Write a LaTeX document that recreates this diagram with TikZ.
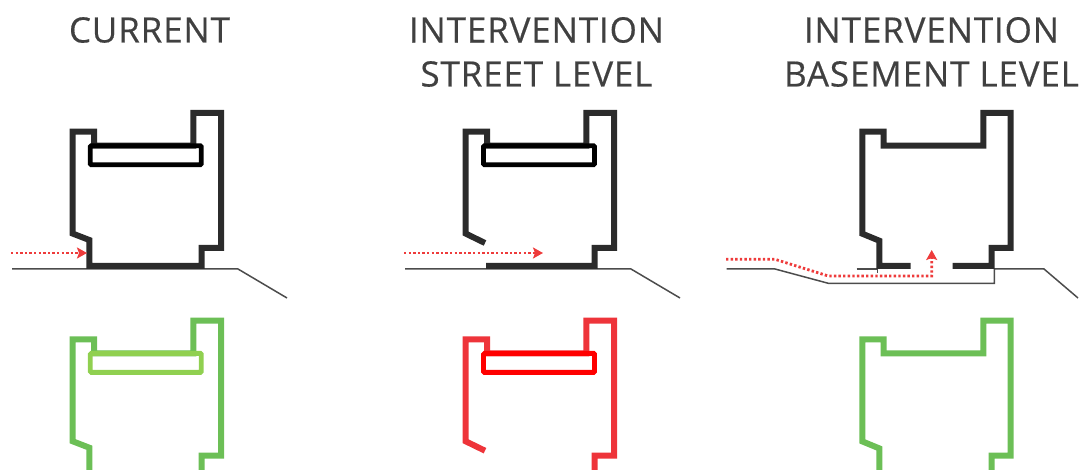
\documentclass[tikz,border=0pt]{standalone}
\usepackage{fontspec}
\setmainfont{Open Sans}[LetterSpace=2.4,FakeBold=0.4]
\usetikzlibrary{arrows.meta}
\definecolor{wallgray}{HTML}{2B2B2B}
\definecolor{titlegray}{HTML}{404040}
\definecolor{routered}{HTML}{EE3B3B}
\definecolor{okgreen}{HTML}{6CBF56}
\definecolor{traygreen}{HTML}{90D050}
\definecolor{badred}{HTML}{EE343A}
\begin{document}
\begin{tikzpicture}[x=1pt, y=-1pt, node distance={44pt},
    title/.style = {text=titlegray, font=\fontsize{35}{35}\selectfont, inner sep=0pt},
    wall/.style = {draw=wallgray, line width=6pt, miter limit=10},
    tray/.style = {draw=black, line width=4.8pt, rounded corners=1pt, minimum width=111pt, minimum height=19pt, inner sep=0pt},
    ground/.style = {draw=black!70, line width=1.5pt},
    route/.style = {draw=routered, line width=2.8pt, dash pattern=on 2.4pt off 2.2pt, -{Stealth[length=10pt,width=11pt,inset=2pt]}}]
    \useasboundingbox (0,0) rectangle (1085,470);
        \node[title] (t1) at (149.5,30) {CURRENT};
        \node[title] (t2) at (536.5,30) {INTERVENTION};
        \node[title] (t2b) [below of = t2] {STREET LEVEL};
        \node[title] (t3) at (931.5,30) {INTERVENTION};
        \node[title] (t3b) [below of = t3] {BASEMENT LEVEL};
        % ground lines
        \draw[ground] (12,269) -- (238,269) -- (287,298);
        \draw[ground] (405,269) -- (631,269) -- (680,298);
        \draw[ground] (726.7,269) -- (775,269) -- (828.3,283.3) -- (994.3,283.3) -- (994.3,269) -- (1044,269) -- (1078,298);
        \draw[ground] (856.7,269) -- (877.3,269) -- (877.3,272.7);
        % top row
        \draw[wall] (72.5,131.7) -- (94,131.7) -- (94,145.7) -- (193.3,145.7) -- (193.3,113) -- (221,113) -- (221,248) -- (201.7,248) -- (201.7,266) -- (89.3,266) -- (89.3,240) -- (72.5,233.5) -- cycle;
        \node[tray] (tray1) at (145.8,155.2) {};
        \draw[wall] (485,243) -- (465.5,233.5) -- (465.5,131.7) -- (487,131.7) -- (487,145.7) -- (586.3,145.7) -- (586.3,113) -- (614,113) -- (614,248) -- (594.7,248) -- (594.7,266) -- (486,266);
        \node[tray] (tray2) at (539,155.2) {};
        \draw[wall] (910.7,266) -- (879.3,266) -- (879.3,240.7) -- (862.3,233.7) -- (862.3,131.7) -- (883.7,131.7) -- (883.7,145.7) -- (983.3,145.7) -- (983.3,113) -- (1010.7,113) -- (1010.7,248) -- (991.7,248) -- (991.7,266) -- (952.7,266);
        % routes
        \coordinate (a1) at (11,253);
        \coordinate (b1) at (87,253);
        \coordinate (a2) at (404,253);
        \coordinate (b2) at (543,253);
        \coordinate (a3) at (726,259.3);
        \coordinate (b3) at (931.7,250);
        \draw[route] (a1) -- (b1);
        \draw[route] (a2) -- (b2);
        \draw[route] (a3) -- (775,259.3) -- (828.3,276) -- (931.7,276) -- (b3);
        % bottom row
        \draw[wall, draw=okgreen] (72.5,339.4) -- (94,339.4) -- (94,353.4) -- (193.3,353.4) -- (193.3,320.7) -- (221,320.7) -- (221,455.7) -- (201.7,455.7) -- (201.7,473.7) -- (89.3,473.7) -- (89.3,447.7) -- (72.5,441.2) -- cycle;
        \node[tray, draw=traygreen] (tray4) at (145.8,362.9) {};
        \draw[wall, draw=badred] (485,450.7) -- (465.5,441.2) -- (465.5,339.4) -- (487,339.4) -- (487,353.4) -- (586.3,353.4) -- (586.3,320.7) -- (614,320.7) -- (614,455.7) -- (594.7,455.7) -- (594.7,473.7) -- (486,473.7);
        \node[tray, draw=red] (tray5) at (539,362.9) {};
        \draw[wall, draw=okgreen] (910.7,473.7) -- (879.3,473.7) -- (879.3,448.4) -- (862.3,441.4) -- (862.3,339.4) -- (883.7,339.4) -- (883.7,353.4) -- (983.3,353.4) -- (983.3,320.7) -- (1010.7,320.7) -- (1010.7,455.7) -- (991.7,455.7) -- (991.7,473.7) -- (952.7,473.7);
    \end{tikzpicture}
\end{document}
